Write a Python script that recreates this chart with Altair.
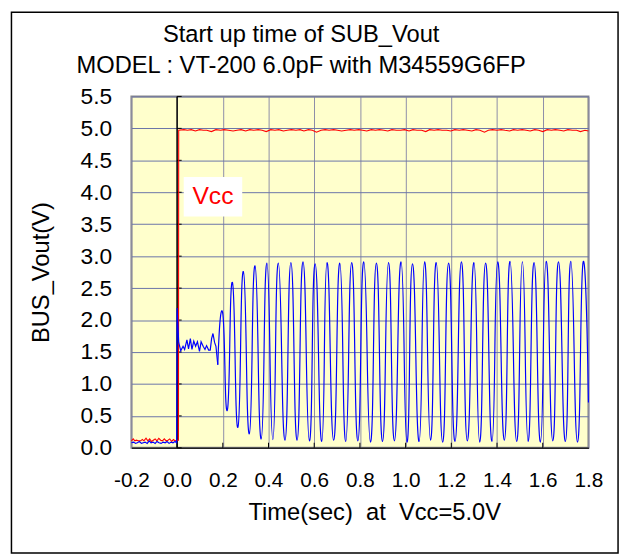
import altair as alt
import pandas as pd

FONT = "Liberation Sans"

# ---------------- data ----------------
# Vcc trace (red)
red_t = [-0.200, -0.192, -0.185, -0.178, -0.170, -0.160, -0.152, -0.145, -0.136, -0.128,
         -0.120, -0.112, -0.104, -0.096, -0.088, -0.080, -0.072, -0.064, -0.056, -0.048,
         -0.040, -0.032, -0.024, -0.016, -0.008, 0.000, 0.006,
         0.007, 0.030, 0.045, 0.062, 0.080, 0.098, 0.115, 0.130, 0.150, 0.170,
         0.190, 0.205, 0.225, 0.245, 0.262, 0.280, 0.300, 0.318, 0.335, 0.355,
         0.372, 0.390, 0.410, 0.428, 0.445, 0.465, 0.482, 0.500, 0.520, 0.538,
         0.555, 0.575, 0.592, 0.610, 0.630, 0.648, 0.665, 0.685, 0.702, 0.720,
         0.740, 0.758, 0.775, 0.795, 0.812, 0.830, 0.850, 0.868, 0.885, 0.905,
         0.922, 0.940, 0.960, 0.978, 0.995, 1.015, 1.032, 1.050, 1.070, 1.088,
         1.105, 1.125, 1.142, 1.160, 1.180, 1.198, 1.215, 1.235, 1.252, 1.270,
         1.290, 1.308, 1.325, 1.345, 1.362, 1.380, 1.400, 1.418, 1.435, 1.455,
         1.472, 1.490, 1.510, 1.528, 1.545, 1.565, 1.582, 1.600, 1.620, 1.638,
         1.655, 1.675, 1.692, 1.710, 1.730, 1.748, 1.765, 1.785, 1.800]
red_v = [0.11, 0.14, 0.11, 0.12, 0.11, 0.11, 0.13, 0.11, 0.15, 0.11,
         0.14, 0.10, 0.12, 0.14, 0.11, 0.15, 0.12, 0.11, 0.14, 0.11,
         0.12, 0.14, 0.10, 0.13, 0.11, 0.12, 0.12,
         4.97, 4.98, 4.97, 4.98, 4.96, 4.98, 4.97, 4.97, 4.95, 4.98,
         4.97, 4.98, 4.97, 4.96, 4.97, 4.98, 4.96, 4.98, 4.97, 4.98,
         4.97, 4.95, 4.98, 4.97, 4.98, 4.96, 4.97, 4.98, 4.97, 4.98,
         4.96, 4.98, 4.97, 4.94, 4.97, 4.98, 4.97, 4.98, 4.97, 4.96,
         4.97, 4.98, 4.97, 4.98, 4.97, 4.96, 4.98, 4.97, 4.98, 4.97,
         4.96, 4.98, 4.97, 4.97, 4.98, 4.96, 4.98, 4.97, 4.97, 4.95,
         4.98, 4.97, 4.98, 4.97, 4.97, 4.96, 4.98, 4.97, 4.98, 4.97,
         4.96, 4.98, 4.97, 4.94, 4.97, 4.98, 4.97, 4.98, 4.97, 4.96,
         4.98, 4.97, 4.98, 4.97, 4.96, 4.98, 4.97, 4.95, 4.98, 4.97,
         4.98, 4.97, 4.96, 4.98, 4.97, 4.97, 4.95, 4.97, 4.96]

# SUB_Vout trace (blue)
blue_t = [-0.200, -0.190, -0.182, -0.174, -0.165, -0.156, -0.148, -0.140, -0.131, -0.122,
          -0.114, -0.105, -0.096, -0.088, -0.079, -0.070, -0.061, -0.052, -0.044, -0.035,
          -0.026, -0.018, -0.009, -0.002,
          0.000, 0.007, 0.016, 0.026, 0.033, 0.043, 0.050, 0.058, 0.065, 0.073,
          0.081, 0.089, 0.098, 0.105, 0.114, 0.122, 0.129, 0.138, 0.145, 0.151,
          0.157, 0.164, 0.170, 0.178,
          0.199, 0.220, 0.242, 0.266, 0.290, 0.316, 0.341, 0.368, 0.393, 0.419,
          0.443, 0.472, 0.498, 0.525, 0.551, 0.579, 0.604, 0.633, 0.656, 0.685,
          0.712, 0.738, 0.764, 0.791, 0.817, 0.846, 0.872, 0.899, 0.925, 0.951,
          0.980, 1.006, 1.030, 1.059, 1.083, 1.109, 1.134, 1.162, 1.188, 1.216,
          1.244, 1.270, 1.299, 1.324, 1.350, 1.378, 1.403, 1.432, 1.457, 1.486,
          1.511, 1.536, 1.562, 1.590, 1.615, 1.644, 1.669, 1.699, 1.723, 1.752,
          1.777, 1.800]
blue_v = [0.08, 0.09, 0.07, 0.08, 0.10, 0.07, 0.08, 0.09, 0.07, 0.11,
          0.08, 0.09, 0.07, 0.10, 0.08, 0.07, 0.09, 0.08, 0.10, 0.07,
          0.09, 0.08, 0.10, 0.08,
          2.19, 1.65, 1.52, 1.59, 1.54, 1.69, 1.55, 1.71, 1.54, 1.67,
          1.59, 1.66, 1.51, 1.66, 1.59, 1.54, 1.60, 1.53, 1.53, 1.71,
          1.79, 1.65, 1.59, 1.30,
          2.12, 0.59, 2.59, 0.32, 2.76, 0.22, 2.85, 0.14, 2.89, 0.13,
          2.89, 0.12, 2.90, 0.12, 2.91, 0.11, 2.88, 0.10, 2.90, 0.12,
          2.89, 0.10, 2.90, 0.11, 2.91, 0.09, 2.89, 0.10, 2.90, 0.11,
          2.91, 0.09, 2.88, 0.10, 2.91, 0.12, 2.90, 0.09, 2.89, 0.10,
          2.91, 0.11, 2.90, 0.09, 2.89, 0.10, 2.91, 0.12, 2.92, 0.10,
          2.91, 0.10, 2.90, 0.09, 2.92, 0.11, 2.91, 0.10, 2.92, 0.09,
          2.91, 0.71]
osc_start = 0.178   # where the noisy plateau turns into the oscillation

x_ticks = [-0.2, 0.0, 0.2, 0.4, 0.6, 0.8, 1.0, 1.2, 1.4, 1.6, 1.8]
y_ticks = [0.0, 0.5, 1.0, 1.5, 2.0, 2.5, 3.0, 3.5, 4.0, 4.5, 5.0, 5.5]

title_lines = ["Start up time of SUB_Vout", "MODEL : VT-200 6.0pF with M34559G6FP"]
x_title = "Time(sec)\u00a0\u00a0at\u00a0\u00a0Vcc=5.0V"
y_title = "BUS_Vout(V)"
label_text = "Vcc"
label_box = {"t": [0.029], "t2": [0.285], "v": [3.62], "v2": [4.24]}
label_at = {"t": [0.157], "v": [3.816]}

# ---------------- tables ----------------
red_df = pd.DataFrame([{"t": a, "v": b} for a, b in zip(red_t, red_v)])
blue_df = pd.DataFrame([{"t": a, "v": b} for a, b in zip(blue_t, blue_v)])
xtick_df = pd.DataFrame({"t": x_ticks[1:-1], "v": [0.0] * (len(x_ticks) - 2),
                         "v2": [0.08] * (len(x_ticks) - 2)})
ytick_df = pd.DataFrame({"t": [0.0] * len(y_ticks), "t2": [0.02] * len(y_ticks), "v": y_ticks})
zero_df = pd.DataFrame({"t": [0.0], "v": [0.0], "v2": [5.5]})
one = pd.DataFrame({"a": [0]})

xs = alt.Scale(domain=[-0.2, 1.8], nice=False, zero=False)
ys = alt.Scale(domain=[0, 5.5], nice=False, zero=False)

LABEL_EXPR = "replace(format(datum.value, '.1f'), '\u2212', '-')"

x_axis = alt.Axis(values=x_ticks, labelExpr=LABEL_EXPR, labelFont=FONT, labelFontSize=21,
                  labelColor="black", labelPadding=39, labelBaseline="alphabetic",
                  labelFlush=False, labelOverlap=False, ticks=False,
                  domain=True, domainColor="#222222", domainWidth=1.5,
                  grid=True, gridColor="#8C8CA8", gridWidth=1,
                  titleFont=FONT, titleFontSize=24, titleFontWeight="normal",
                  titleColor="black", titleX=246, titleY=73, titleAlign="center",
                  titleBaseline="alphabetic")
y_axis = alt.Axis(values=y_ticks, labelExpr=LABEL_EXPR, labelFont=FONT, labelFontSize=23,
                  labelColor="black", labelPadding=20, labelFlush=False,
                  labelOverlap=False, ticks=False, domain=False,
                  grid=True, gridColor="#6A74A8", gridWidth=1,
                  titleFont=FONT, titleFontSize=24, titleFontWeight="normal",
                  titleColor="black", titleAngle=270, titleX=-84, titleY=178,
                  titleAlign="center", titleBaseline="alphabetic")

X = alt.X("t:Q", scale=xs, axis=x_axis, title=x_title)
Y = alt.Y("v:Q", scale=ys, axis=y_axis, title=y_title)

zero_line = alt.Chart(zero_df).mark_rule(color="black", strokeWidth=1.5).encode(
    x=X, y=Y, y2="v2:Q")
xtick_marks = alt.Chart(xtick_df).mark_rule(color="black", strokeWidth=1).encode(
    x=X, y=Y, y2="v2:Q")
ytick_marks = alt.Chart(ytick_df).mark_rule(color="black", strokeWidth=1).encode(
    x=X, x2="t2:Q", y=Y)
red_line = alt.Chart(red_df).mark_line(color="#FF0000", strokeWidth=1.1).encode(
    x=X, y=Y, order="t:Q")
blue_noise = alt.Chart(blue_df).transform_filter(
    alt.datum.t <= osc_start).mark_line(color="#0000FF", strokeWidth=1.2).encode(
    x=X, y=Y, order="t:Q")
blue_osc = alt.Chart(blue_df).transform_filter(
    alt.datum.t >= osc_start).mark_line(color="#0000FF", strokeWidth=1.2,
                                        interpolate="cardinal", tension=-0.7).encode(
    x=X, y=Y, order="t:Q")
box = alt.Chart(pd.DataFrame(label_box)).mark_rect(color="white").encode(
    x=X, x2="t2:Q", y=Y, y2="v2:Q")
vcc_text = alt.Chart(pd.DataFrame(label_at)).mark_text(
    text=label_text, font=FONT, fontSize=25, color="#FF0000",
    align="center", baseline="alphabetic").encode(x=X, y=Y)
title1 = alt.Chart(one).mark_text(text=title_lines[0], font=FONT, fontSize=24,
                                  color="black", align="center",
                                  baseline="alphabetic").encode(
    x=alt.value(172), y=alt.value(-55))
title2 = alt.Chart(one).mark_text(text=title_lines[1], font=FONT, fontSize=24,
                                  color="black", align="center",
                                  baseline="alphabetic").encode(
    x=alt.value(172), y=alt.value(-24))
frame = alt.Chart(one).mark_rect(fillOpacity=0, stroke="black", strokeWidth=1.5).encode(
    x=alt.value(-121.5), x2=alt.value(493), y=alt.value(-85.2), y2=alt.value(462.5))

chart = alt.layer(zero_line, xtick_marks, ytick_marks, red_line, blue_noise, blue_osc,
                  box, vcc_text, title1, title2, frame).properties(
    width=463, height=356,
    autosize=alt.AutoSizeParams(type="none"),
    padding={"left": 125, "top": 86, "right": 34, "bottom": 108},
    background="white",
).configure_view(fill="#FFFFCC", stroke="#8A8A8A", strokeWidth=2)

chart.save("out.html", embed_options={"renderer": "svg", "actions": False})
